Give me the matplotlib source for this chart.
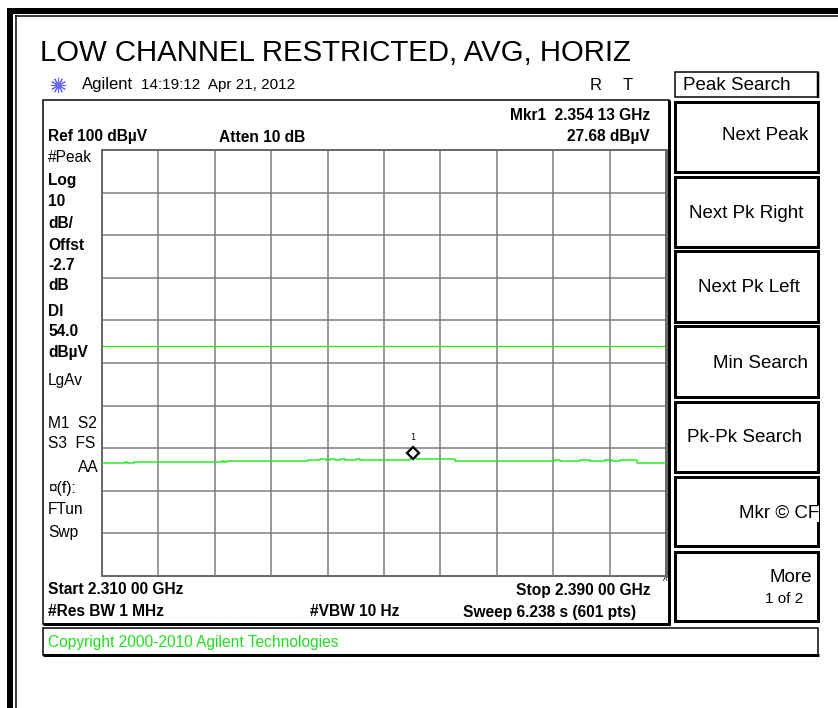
import matplotlib
matplotlib.use("Agg")
import matplotlib.pyplot as plt
from matplotlib.patches import Rectangle

plt.rcParams["font.family"] = ["Liberation Sans", "DejaVu Sans"]

# sweep / display settings from the screen
start_ghz = 2.310
stop_ghz = 2.390
ref_level = 100
db_per_div = 10
display_line = 54.0

# marker 1
mkr_freq_ghz = 2.35413
mkr_level = 27.68

# averaged trace, breakpoints (GHz, dBuV)
trace_freq_ghz = [2.3100, 2.3133, 2.3135, 2.3145, 2.3270, 2.3273, 2.3277, 2.3282,
                  2.3392, 2.3400, 2.3409, 2.3418, 2.3423, 2.3430, 2.3438, 2.3445,
                  2.3452, 2.3460, 2.3466, 2.3476, 2.3537, 2.3541, 2.3545, 2.3601,
                  2.3743, 2.3750, 2.3757, 2.3778, 2.3792, 2.3813, 2.3823, 2.3835,
                  2.3859, 2.3900]
trace_level = [26.53, 26.76, 26.53, 26.83, 26.95, 26.83, 26.95, 27.07,
               27.30, 27.23, 27.39, 27.23, 27.35, 27.23, 27.39, 27.30,
               27.23, 27.35, 27.23, 27.23, 27.46, 27.68, 27.35, 27.07,
               27.23, 26.92, 26.92, 27.16, 26.92, 27.16, 26.92, 27.23,
               26.46, 26.46]

title = "LOW CHANNEL RESTRICTED, AVG, HORIZ"
left_labels = ["#Peak", "Log", "10", "dB/", "Offst", "-2.7", "dB", "Dl", "54.0",
               "dBµV", "LgAv", "M1  S2", "S3  FS", "AA", "¤(f):", "FTun", "Swp"]
left_bold = [False, True, True, True, True, True, True, True, True,
             True, False, False, False, False, False, False, False]
left_y = [157, 180, 201, 224, 246, 266, 285, 312, 332,
          352, 380, 424, 444, 467, 488, 510, 533]

softkeys = ["Next Peak", "Next Pk Right", "Next Pk Left", "Min Search",
            "Pk-Pk Search", "Mkr © CF", "More"]
key_top = [102, 177, 251, 326, 402, 477, 552]
key_bot = [172, 247, 322, 397, 472, 546, 621]
key_text_x = [808, 803, 800, 808, 802, 819, 812]
key_text_y = [136, 213, 288, 363, 438, 513, 578]

W, H = 838, 708
fig = plt.figure(figsize=(W / 100, H / 100), dpi=100)

# pixel canvas for the frame, boxes and text
bg = fig.add_axes([0, 0, 1, 1], zorder=0)
bg.set_xlim(0, W)
bg.set_ylim(H, 0)
bg.axis("off")

px = 0.72  # one pixel in points

# outer double frame
bg.plot([10, 10], [8, H], color="black", lw=6 * px, solid_capstyle="butt")
bg.plot([7, W], [10.5, 10.5], color="black", lw=6 * px, solid_capstyle="butt")
bg.plot([15.5, 15.5], [15, H], color="black", lw=1.5 * px, solid_capstyle="butt")
bg.plot([15, W], [16, 16], color="black", lw=1.5 * px, solid_capstyle="butt")

bg.text(40, 53, title, fontsize=21.2, va="center", ha="left")

# agilent logo + date line
bg.plot(58, 85, marker=(12, 2, 0), ms=11, mew=0.8, color="#6a6aff")
bg.text(82, 85, "Agilent", fontsize=12, va="center", ha="left")
bg.text(141, 85, "14:19:12  Apr 21, 2012", fontsize=11, va="center", ha="left")
bg.text(596, 85, "R", fontsize=12, va="center", ha="center")
bg.text(628, 85, "T", fontsize=12, va="center", ha="center")

# screen box
bg.add_patch(Rectangle((43, 100), 626, 524, fill=False, ec="black", lw=1.5 * px))
bg.plot([669, 669], [100, 625], color="black", lw=3 * px, solid_capstyle="butt")
bg.plot([43, 670], [624, 624], color="black", lw=3 * px, solid_capstyle="butt")

bold = dict(fontsize=11.2, fontweight="bold", va="center")
bg.text(650, 115, "Mkr1  2.354 13 GHz", ha="right", **bold)
bg.text(650, 136, "27.68 dBµV", ha="right", **bold)
bg.text(48, 137, "Ref 100 dBµV", ha="left", **bold)
bg.text(219, 137, "Atten 10 dB", ha="left", **bold)

for lab, b, y in zip(left_labels, left_bold, left_y):
    if lab == "AA":
        bg.text(99, y, lab, fontsize=11.2, va="center", ha="right")
    else:
        bg.text(48, y, lab, fontsize=11.2, va="center", ha="left",
                fontweight="bold" if b else "normal")

bg.text(48, 590, "Start 2.310 00 GHz", ha="left", **bold)
bg.text(650, 590, "Stop 2.390 00 GHz", ha="right", **bold)
bg.text(48, 612, "#Res BW 1 MHz", ha="left", **bold)
bg.text(310, 612, "#VBW 10 Hz", ha="left", **bold)
bg.text(636, 612, "Sweep 6.238 s (601 pts)", ha="right", **bold)
bg.text(665, 582, "^", fontsize=7, va="center", ha="center")

# copyright strip
bg.add_patch(Rectangle((43, 628), 775, 27, fill=False, ec="black", lw=1.5 * px))
bg.plot([43, 819], [655, 655], color="black", lw=3 * px, solid_capstyle="butt")
bg.text(48, 642, "Copyright 2000-2010 Agilent Technologies", fontsize=11.2,
        color="#22dd22", va="center", ha="left")

# softkeys
bg.add_patch(Rectangle((675, 72), 143, 25, fill=False, ec="black", lw=1.5 * px))
bg.plot([818, 818], [72, 98], color="black", lw=2.5 * px, solid_capstyle="butt")
bg.text(683, 86, "Peak Search", fontsize=13.5, va="center", ha="left")
for lab, t, b, tx, ty in zip(softkeys, key_top, key_bot, key_text_x, key_text_y):
    bg.add_patch(Rectangle((674.5, t), 143.5, b - t, fill=False, ec="black",
                           lw=3 * px, zorder=1))
    bg.text(tx, ty, lab, fontsize=13.5, va="center", ha="right", zorder=3,
            bbox=dict(fc="white", ec="none", pad=0) if "CF" in lab else None)
bg.text(803, 599, "1 of 2", fontsize=11, va="center", ha="right")

# graticule
ax = fig.add_axes([102 / W, 1 - 576 / H, 564 / W, 426 / H], zorder=2)
ax.set_xlim(start_ghz, stop_ghz)
ax.set_ylim(ref_level - 10 * db_per_div, ref_level)
ax.set_xticks([start_ghz + i * (stop_ghz - start_ghz) / 10 for i in range(11)])
ax.set_yticks([ref_level - i * db_per_div for i in range(11)])
ax.tick_params(length=0, labelbottom=False, labelleft=False)
ax.grid(True, color="#7a7a7a", lw=1.5 * px)
for s in ax.spines.values():
    s.set_color("#6a6a6a")
    s.set_linewidth(2 * px)
ax.spines["right"].set_linewidth(3 * px)
ax.set_facecolor("white")

ax.axhline(display_line, color="#22ee22", lw=1.3 * px)
ax.plot(trace_freq_ghz, trace_level, drawstyle="steps-post", color="#22ee22",
        lw=1.5 * px, zorder=3)
ax.plot([mkr_freq_ghz], [mkr_level], marker="D", ms=6.5, mfc="white", mec="black",
        mew=1.6, transform=ax.transData + matplotlib.transforms.ScaledTranslation(
            0, 4 / 72, fig.dpi_scale_trans), zorder=4)
ax.annotate("1", (mkr_freq_ghz, mkr_level), xytext=(0, 15), textcoords="offset points",
            ha="center", va="center", fontsize=6, family="DejaVu Sans Mono")

fig.savefig("out.png", dpi=100)
